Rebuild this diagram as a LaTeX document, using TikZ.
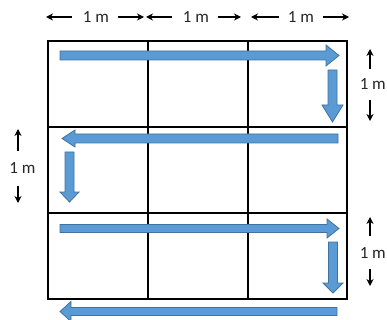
\documentclass[tikz,border=0pt]{standalone}
\usepackage{fontspec}
\setmainfont{Carlito}
\usetikzlibrary{arrows.meta}
\definecolor{bluefill}{RGB}{91,155,213}
\definecolor{blueline}{RGB}{65,113,156}
\tikzset{
  blockarrow/.style={fill=bluefill,draw=blueline,line width=0.8pt,line join=miter},
  gridline/.style={line width=2pt,draw=black},
  dimarrow/.style={line width=2pt,-{Stealth[length=7pt,width=7pt]}},
  dimlabel/.style={font=\fontsize{17}{17}\selectfont,inner sep=0pt,text=black!85}
}
\begin{document}
\begin{tikzpicture}[x=1pt,y=-1pt]
\useasboundingbox (0,0) rectangle (387,320);
% grid
\draw[gridline] (48,41) rectangle (347,299);
\draw[gridline] (148,41) -- (148,299);
\draw[gridline] (248,41) -- (248,299);
\draw[gridline] (48,127) -- (347,127);
\draw[gridline] (48,213) -- (347,213);
% block arrows
% 1 right
\draw[blockarrow] (60,51) -- (326,51) -- (326,45) -- (339,55.5) -- (326,66) -- (326,60) -- (60,60) -- cycle;
% 2 down
\draw[blockarrow] (328,70) -- (337,70) -- (337,105) -- (343,105) -- (332.5,122) -- (322,105) -- (328,105) -- cycle;
% 3 left
\draw[blockarrow] (338,134) -- (75,134) -- (75,130) -- (62,138.5) -- (75,147) -- (75,143) -- (338,143) -- cycle;
% 4 down
\draw[blockarrow] (65,152) -- (74,152) -- (74,192) -- (79,192) -- (69.5,202) -- (60,192) -- (65,192) -- cycle;
% 5 right
\draw[blockarrow] (60,224.5) -- (327,224.5) -- (327,219) -- (339,228.5) -- (327,238) -- (327,232.5) -- (60,232.5) -- cycle;
% 6 down
\draw[blockarrow] (328.5,242) -- (337.5,242) -- (337.5,283) -- (343,283) -- (333,293) -- (323,283) -- (328.5,283) -- cycle;
% 7 left
\draw[blockarrow] (337,307.5) -- (71,307.5) -- (71,301.5) -- (60,311.5) -- (71,321.5) -- (71,315.5) -- (337,315.5) -- cycle;
% top dimension labels
\node[dimlabel] (t1) at (96,17) {1 m};
\node[dimlabel] (t2) at (196,17) {1 m};
\node[dimlabel] (t3) at (301,17) {1 m};
\coordinate (t1l) at (46,17); \coordinate (t1r) at (144,17);
\coordinate (t2l) at (146,17); \coordinate (t2r) at (241,17);
\coordinate (t3l) at (251,17); \coordinate (t3r) at (349,17);
\draw[dimarrow] ([xshift=-11pt]t1.west) -- (t1l);
\draw[dimarrow] ([xshift=9pt]t1.east) -- (t1r);
\draw[dimarrow] ([xshift=-11pt]t2.west) -- (t2l);
\draw[dimarrow] ([xshift=9pt]t2.east) -- (t2r);
\draw[dimarrow] ([xshift=-9pt]t3.west) -- (t3l);
\draw[dimarrow] ([xshift=9pt]t3.east) -- (t3r);
% right labels
\node[dimlabel,anchor=east] (r1) at (386,84) {1 m};
\coordinate (r1u) at (370,49); \coordinate (r1d) at (370,121);
\draw[dimarrow] (370,69) -- (r1u);
\draw[dimarrow] (370,100) -- (r1d);
\node[dimlabel,anchor=east] (r2) at (386,253) {1 m};
\coordinate (r2u) at (370,217); \coordinate (r2d) at (370,286);
\draw[dimarrow] (370,236) -- (r2u);
\draw[dimarrow] (370,269) -- (r2d);
% left label
\node[dimlabel] (l1) at (22.5,168) {1 m};
\coordinate (l1u) at (18,129); \coordinate (l1d) at (18,203);
\draw[dimarrow] (18,151) -- (l1u);
\draw[dimarrow] (18,186) -- (l1d);
\end{tikzpicture}
\end{document}
